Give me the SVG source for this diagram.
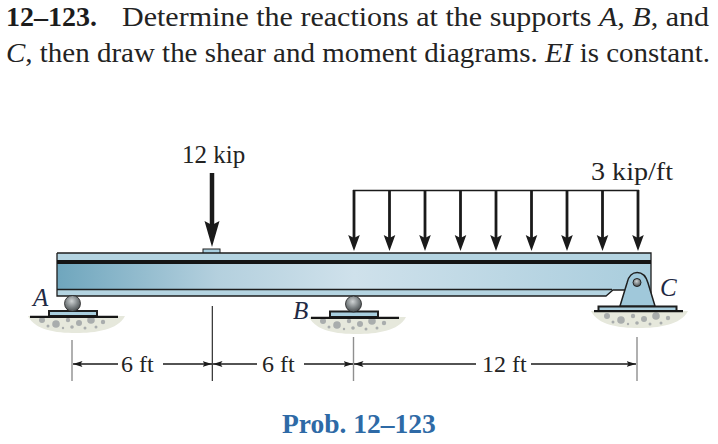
<svg xmlns="http://www.w3.org/2000/svg" width="718" height="444" viewBox="0 0 718 444">
<defs>
<linearGradient id="web" x1="0" x2="1" y1="0" y2="0">
<stop offset="0" stop-color="#6fa6bd"/><stop offset="0.27" stop-color="#b4d0de"/><stop offset="0.5" stop-color="#cfe1eb"/><stop offset="0.75" stop-color="#bcd7e4"/><stop offset="1" stop-color="#a9cddd"/>
</linearGradient>
<radialGradient id="ball" cx="0.45" cy="0.35" r="0.7"><stop offset="0" stop-color="#cfd3d4"/><stop offset="0.55" stop-color="#7d8385"/><stop offset="1" stop-color="#404446"/></radialGradient>
<marker id="dim" markerWidth="10" markerHeight="6" refX="9.5" refY="3" orient="auto-start-reverse" markerUnits="userSpaceOnUse"><path d="M0 0L9.5 3L0 6L2 3Z" fill="#1a1a1a"/></marker>
<g id="load"><path d="M0 0V50" stroke="#1a1a1a" stroke-width="2.8" fill="none"/><path d="M-5.800 45L0 61L5.800 45L0 48Z" fill="#1a1a1a"/></g>
<g id="stones" fill="#a9adad"><circle cx="9" cy="3" r="3"/><circle cx="23" cy="7" r="3.800"/><circle cx="35" cy="3" r="2.200"/><circle cx="46" cy="6" r="3"/><circle cx="58" cy="3" r="3.800"/><circle cx="70" cy="5" r="2.200"/><circle cx="15" cy="9" r="1.500"/><circle cx="39" cy="10" r="1.800"/><circle cx="63" cy="10" r="1.500"/><circle cx="30" cy="11" r="1.200"/><circle cx="52" cy="11" r="1.500"/></g>
</defs>
<style>
.t{font-family:"Liberation Serif","Times New Roman",serif;fill:#232323}
.b{font-size:28px}
.d{font-size:24px}
.l{font-size:25px}
.i{font-style:italic;fill:#1f2a44}
.bd{stroke:#1e1e1e;fill:none}
.blue{fill:#a9cfdf;stroke:#1e1e1e;stroke-width:2}
.g{fill:#e6e8dc}
.gl{stroke:#161616;stroke-width:2.200}
.tick{stroke:#8f8f8f;stroke-width:1.400}
.dl{stroke:#1a1a1a;stroke-width:1.300;fill:none}
</style>
<g id="title">
<text class="t b" x="6" y="26" font-weight="bold" style="fill:#1c1c1c">12–123.</text>
<text class="t b" x="122" y="26" textLength="587" lengthAdjust="spacingAndGlyphs">Determine the reactions at the supports <tspan font-style="italic">A</tspan>, <tspan font-style="italic">B</tspan>, and</text>
<text class="t b" x="6" y="62" textLength="704" lengthAdjust="spacingAndGlyphs"><tspan font-style="italic">C</tspan>, then draw the shear and moment diagrams. <tspan font-style="italic">EI</tspan> is constant.</text>
</g>
<g id="beam">
<rect x="203" y="249" width="17" height="4.500" fill="#a9cfdf" stroke="#1e1e1e" stroke-width="1"/>
<path d="M57 253H651V290H613L606 296H57Z" fill="url(#web)"/>
<path d="M57 253H651V261H57Z" fill="#b4d4e1"/>
<path d="M57 289.500H612L606 296H57Z" fill="#b4d4e1"/>
<path d="M57 253H651V300M57 253V296H606L613 290H625" class="bd" stroke-width="1.300"/>
<rect x="57" y="260" width="594" height="4" fill="#141414"/>
<path d="M57 289.500H612" class="bd" stroke-width="1.300"/>
</g>
<g id="supportA">
<path class="g" d="M28 316H125C118 330 95 333 76 333C55 333 35 330 28 316Z"/>
<use href="#stones" x="33" y="317"/>
<rect class="blue" x="49" y="311" width="48" height="5"/>
<path class="gl" d="M30 316.800H118"/>
<circle cx="72.500" cy="303.500" r="8" fill="url(#ball)" stroke="#222" stroke-width="0.800"/>
<text class="t l i" x="33" y="306">A</text>
</g>
<g id="supportB">
<path class="g" d="M309 317H406C399 331 376 334 357 334C336 334 316 331 309 317Z"/>
<use href="#stones" x="314" y="318"/>
<rect class="blue" x="330" y="311.500" width="48" height="5.500"/>
<path class="gl" d="M311 317.800H399"/>
<circle cx="353.500" cy="304" r="8" fill="url(#ball)" stroke="#222" stroke-width="0.800"/>
<text class="t l i" x="293" y="319">B</text>
</g>
<g id="supportC">
<path class="g" d="M591 311H688C681 325 658 328 639 328C618 328 598 325 591 311Z"/>
<use href="#stones" x="598" y="313"/>
<rect class="blue" x="598.500" y="306.500" width="78" height="4.500"/>
<path class="gl" d="M594 311.200H683"/>
<path d="M620 306L627 283C630 269 644 269 648 283L655 306Z" fill="#a0c8da" stroke="#1e1e1e" stroke-width="1.500"/>
<circle cx="637" cy="282.500" r="4" fill="url(#ball)" stroke="#222" stroke-width="1"/>
<text class="t l i" x="660" y="296">C</text>
</g>
<g id="connectors">
<path d="M212 173V229" stroke="#1a1a1a" stroke-width="4.500" fill="none"/>
<path d="M204.500 221L212 247L219.500 221L212 225Z" fill="#1a1a1a"/>
<path d="M353 190.500H639" stroke="#1a1a1a" stroke-width="1.600" fill="none"/>
<use href="#load" x="354" y="190"/>
<use href="#load" x="389.500" y="190"/>
<use href="#load" x="425" y="190"/>
<use href="#load" x="460.500" y="190"/>
<use href="#load" x="496" y="190"/>
<use href="#load" x="531.500" y="190"/>
<use href="#load" x="567" y="190"/>
<use href="#load" x="602.500" y="190"/>
<use href="#load" x="638" y="190"/>
<path class="tick" d="M72 340V381M353.500 337V381M637 337V381"/>
<path d="M212.300 306V381" stroke="#1a1a1a" stroke-width="1.100"/>
<path class="dl" d="M118 364H73" marker-end="url(#dim)"/>
<path class="dl" d="M163 364H212" marker-end="url(#dim)"/>
<path class="dl" d="M257 364H213" marker-end="url(#dim)"/>
<path class="dl" d="M304 364H353" marker-end="url(#dim)"/>
<path class="dl" d="M476 364H354" marker-end="url(#dim)"/>
<path class="dl" d="M531 364H636" marker-end="url(#dim)"/>
</g>
<g id="labels">
<text class="t l" x="182" y="163">12 kip</text>
<text class="t l" x="591" y="180" textLength="82" lengthAdjust="spacingAndGlyphs">3 kip/ft</text>
<text class="t d" x="121" y="372">6 ft</text>
<text class="t d" x="262" y="372">6 ft</text>
<text class="t d" x="482" y="372">12 ft</text>
<text x="282" y="433" font-family="Liberation Serif, serif" font-weight="bold" font-size="27.500" fill="#2e6aa6">Prob. 12–123</text>
</g>
</svg>
